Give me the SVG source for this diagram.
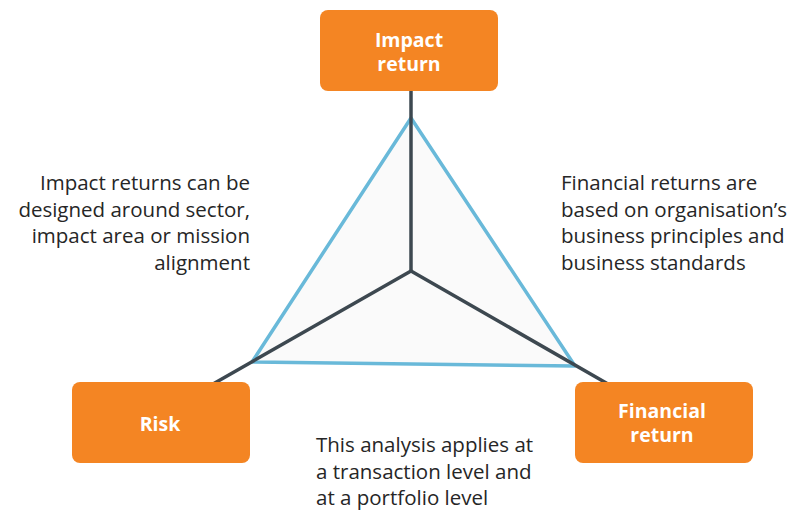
<svg xmlns="http://www.w3.org/2000/svg" width="793" height="513" viewBox="0 0 793 513">
<style>
.box{fill:#f48523}
.bt{font-family:"Open Sans","Liberation Sans",sans-serif;font-weight:bold;font-size:19.5px;fill:#fff;text-anchor:middle}
.t{font-family:"Open Sans","Liberation Sans",sans-serif;font-size:20.5px;fill:#262626}
.dk{stroke:#3d4850;stroke-width:3.5;fill:none;stroke-linecap:round}
</style>
<rect width="793" height="513" fill="#fff"/>
<polygon id="triangle" points="411,118 252,362 575,366" fill="#fafafa" stroke="#69b9d9" stroke-width="3.5" stroke-linejoin="round"/>
<g id="connectors">
<line class="dk" x1="411" y1="91" x2="411" y2="271"/>
<line class="dk" x1="411" y1="271" x2="213" y2="384"/>
<line class="dk" x1="411" y1="271" x2="608" y2="384"/>
</g>
<g id="impact">
<rect class="box" x="320" y="10" width="178" height="81" rx="8"/>
<text class="bt" x="409" y="47">Impact</text>
<text class="bt" x="409" y="71">return</text>
</g>
<g id="risk">
<rect class="box" x="72" y="382" width="178" height="81" rx="8"/>
<text class="bt" x="160" y="431">Risk</text>
</g>
<g id="financial">
<rect class="box" x="575" y="382" width="178" height="81" rx="8"/>
<text class="bt" x="662" y="418">Financial</text>
<text class="bt" x="662" y="442">return</text>
</g>
<g id="left-note" class="t" text-anchor="end">
<text x="250" y="190">Impact returns can be</text>
<text x="250" y="217">designed around sector,</text>
<text x="250" y="243">impact area or mission</text>
<text x="250" y="270">alignment</text>
</g>
<g id="right-note" class="t">
<text x="561" y="190">Financial returns are</text>
<text x="561" y="217">based on organisation’s</text>
<text x="561" y="243">business principles and</text>
<text x="561" y="270">business standards</text>
</g>
<g id="bottom-note" class="t">
<text x="316" y="452">This analysis applies at</text>
<text x="316" y="479">a transaction level and</text>
<text x="316" y="505">at a portfolio level</text>
</g>
</svg>
